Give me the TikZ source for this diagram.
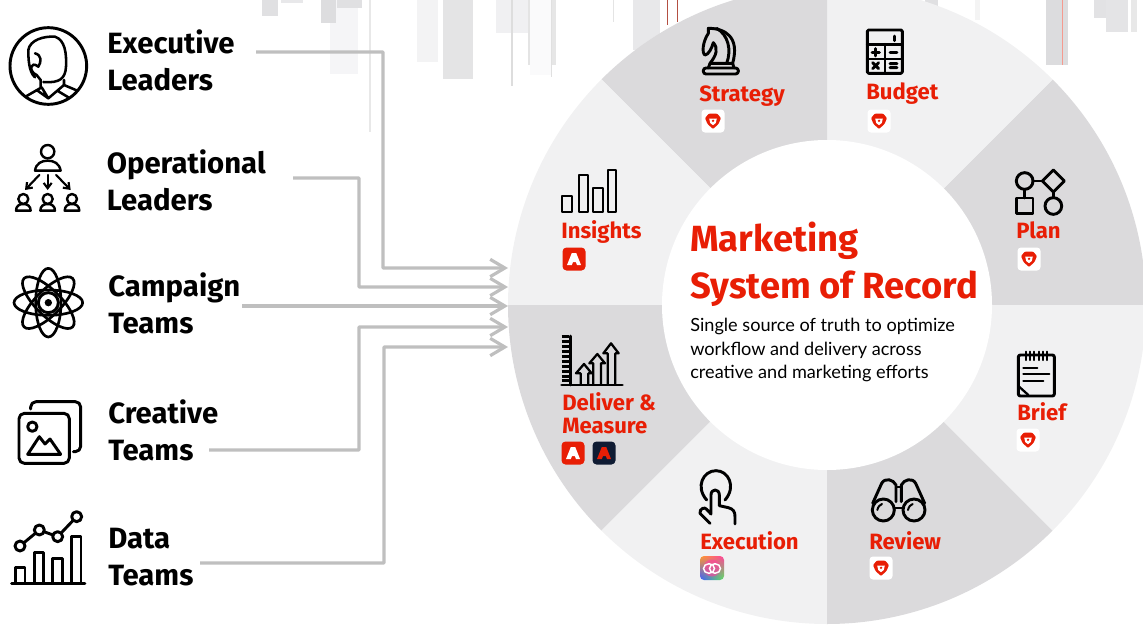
\documentclass[tikz,border=0pt]{standalone}
\usepackage{fontspec}
\setmainfont{Fira Sans}
\newfontfamily\blurbfont{Lato}
\usetikzlibrary{arrows.meta,positioning,shadings}
\definecolor{brandred}{HTML}{E81E05}
\definecolor{wheeldark}{HTML}{DBDADC}
\definecolor{wheellight}{HTML}{F1F1F2}
\definecolor{linkgray}{HTML}{BFBFBF}
\definecolor{badgenavy}{HTML}{0F1B33}
\definecolor{cloudorange}{HTML}{FF9B2E}
\definecolor{cloudpink}{HTML}{FF40A0}
\definecolor{cloudblue}{HTML}{3C5CFF}
\definecolor{cloudgreen}{HTML}{5CE65C}

\tikzset{
    lionbadge/.pic={
        \fill[white, rounded corners=2.6pt] (-11.5,-11.5) rectangle (11.5,11.5);
        \fill[brandred, rounded corners=0.8pt] (-4,-7.5) -- (4,-7.5) -- (8,-3) -- (5.5,3) -- (0,8) -- (-5.5,3) -- (-8,-3) -- cycle;
        \fill[white] (-3.8,-2.5) -- (3.8,-2.5) -- (2.8,2) -- (0,4.2) -- (-2.8,2) -- cycle;
        \fill[brandred] (0,-0.2) circle (1.3);
    },
    adobeglyph/.pic={
        \fill[pic actions] (-2.2,-6) -- (2.2,-6) -- (7,6) -- (3,6) -- (1.8,3) -- (-1,3) -- (0.2,0) -- (-2.2,6) -- (-7,6) -- cycle;
    },
    adobebadge/.pic={
        \fill[brandred, rounded corners=3pt] (-11.5,-11.5) rectangle (11.5,11.5);
        \pic[white] {adobeglyph};
    },
    navybadge/.pic={
        \fill[badgenavy, rounded corners=3pt] (-11.5,-11.5) rectangle (11.5,11.5);
        \pic[brandred] {adobeglyph};
    },
    cloudbadge/.pic={
        \shade[rounded corners=3pt, upper left=cloudorange, upper right=cloudpink, lower left=cloudblue, lower right=cloudgreen] (-12,-12) rectangle (12,12);
        \fill[cloudpink, opacity=0.6] (0,0) circle (8.5);
        \draw[white, line width=1.1pt] (-3,0.5) ellipse[x radius=5.5, y radius=4.8] (3,0.5) ellipse[x radius=5.5, y radius=4.8];
    }
}

\begin{document}
\begin{tikzpicture}[
    x=0.75pt, y=-0.75pt,
    team/.style={font=\fontsize{22}{27.75}\selectfont\bfseries, align=left, anchor=west, inner sep=0pt},
    stage/.style={font=\fontsize{16.6}{17.3}\selectfont\bfseries, text=brandred, align=left, anchor=base west, inner sep=0pt},
    link/.style={draw=linkgray, line width=2.4pt, rounded corners=0.5pt, -{Straight Barb[length=11pt, width=13pt, line width=2.4pt]}},
    icon/.style={draw=black, line width=2.2pt, line join=round, line cap=round},
    traced/.style={x=0.25pt, y=-0.25pt}
]
    \useasboundingbox (0,0) rectangle (1143,639);

    % Faint strips along the top edge
    \foreach \xa/\xb/\yb/\shade in {262/278/16/E0E0E2, 281/303/3/E8E8EA, 330/358/74/F5F5F7, 321/336/23/DDDDDF, 337/362/8/E0E0E2,
        369/371/132/E8E8E8, 417/438/62/F3F3F4, 443/473/79/E4E4E5, 496/528/33/F0F0F2, 511/513/86/DDDDDD, 528/530/65/E4E4E4,
        530/551/75/FAFAFB, 551/552/77/E0E0E0, 552/556/65/E6E6E6, 613/614/22/E4E4E4, 633/660/50/E8E8EA, 925/938/7/E0E0E2,
        975/980/20/F4F4F4, 1046/1068/65/DCDCDE, 1094/1118/18/E2E2E4, 1106/1128/32/E4E4E6, 1131/1137/32/E8E8E8} {
        \definecolor{stripcolor}{HTML}{\shade}
        \fill[stripcolor] (\xa,0) rectangle (\xb,\yb);
    }
    \fill[brandred!45] (1061.5,0) rectangle (1062.5,65);
    \fill[brandred!50!gray] (667,0) rectangle (668,25);
    \fill[brandred!50!gray] (676.5,0) rectangle (677.5,22);

    % Wheel
    \begin{scope}
        \clip (0,0) rectangle (1143,639);
        \begin{scope}[shift={(827,305)}, y=0.75pt]
            \foreach \a/\tone in {0/wheeldark, 45/wheellight, 90/wheeldark, 135/wheellight, 180/wheeldark, 225/wheellight, 270/wheeldark, 315/wheellight} {
                \fill[\tone] (0,0) -- (\a:319) arc[start angle=\a, delta angle=45, radius=319] -- cycle;
            }
        \end{scope}
    \end{scope}
    \node[circle, fill=white, minimum size=247.5pt, inner sep=0pt] (hub) at (827,305) {};

    % Centre text
    \node[font=\fontsize{27.3}{35.25}\selectfont\bfseries, text=brandred, align=left, anchor=north west, inner sep=0pt] (title) at (690,222) {Marketing\\System of Record};
    \node[font=\fontsize{13.6}{17.7}\selectfont\blurbfont, align=left, inner sep=0pt, below=8pt of title.south west, anchor=north west] (blurb) {Single source of truth to optimize\\workflow and delivery across\\creative and marketing efforts};

    % Stage labels
    \node[stage] (strategy) at (699,101) {Strategy};
    \node[stage] (budget) at (866,99.5) {Budget};
    \node[stage] (plan) at (1016,238) {Plan};
    \node[stage] (brief) at (1017,420.5) {Brief};
    \node[stage] (review) at (869,549) {Review};
    \node[stage] (execution) at (700,549) {Execution};
    \node[stage] (insights) at (561,238) {Insights};
    \node[stage, anchor=north west] (deliver) at (562,392) {Deliver \&\\Measure};

    % Badges
    \pic at (713,121) {lionbadge};
    \pic at (879,121) {lionbadge};
    \pic at (1029,259) {lionbadge};
    \pic at (1028,440) {lionbadge};
    \pic at (881,568) {lionbadge};
    \pic at (712,568) {cloudbadge};
    \pic at (574,259) {adobebadge};
    \pic at (573,453) {adobebadge};
    \pic at (604,453) {navybadge};

    % Audience labels
    \node[team] (executive) at (107,60) {Executive\\Leaders};
    \node[team] (operational) at (106.5,180) {Operational\\Leaders};
    \node[team] (campaign) at (108,303) {Campaign\\Teams};
    \node[team] (creative) at (108,430) {Creative\\Teams};
    \node[team] (data) at (108,557) {Data\\Teams};

    % Connectors
    \coordinate (exec start) at (256,52);
    \coordinate (oper start) at (293,178);
    \coordinate (camp start) at (242,306);
    \coordinate (crea start) at (209,450);
    \coordinate (data start) at (200,563);
    \coordinate (exec end) at (508,268);
    \coordinate (oper end) at (508,287);
    \coordinate (camp end) at (508,306);
    \coordinate (crea end) at (508,327);
    \coordinate (data end) at (508,347);
    \draw[link] (exec start) -| (383,160) |- (exec end);
    \draw[link] (oper start) -| (359,230) |- (oper end);
    \draw[link] (camp start) -- (camp end);
    \draw[link] (crea start) -| (359,390) |- (crea end);
    \draw[link] (data start) -| (384,450) |- (data end);

    % Audience icons
    \begin{scope}[traced]
        \draw[icon] (145,198) circle (115);
        % executive
        \draw[icon, line width=1.9pt] (105,232) .. controls (85,215) and (85,170) .. (85,150) .. controls (90,120) and (130,108) .. (165,110) .. controls (195,120) and (200,160) .. (198,200) .. controls (196,235) and (180,250) .. (130,246);
        \draw[icon, line width=1.9pt] (105,160) .. controls (125,165) and (125,185) .. (115,200) .. controls (90,180) and (85,215) .. (110,225) -- (122,240) -- (122,262) (192,240) -- (192,255);
        \draw[icon, line width=1.9pt] (80,288) -- (125,262) -- (145,295) -- (172,272) -- (205,292) (172,272) -- (192,255) -- (232,272) (145,295) -- (110,270);
        % operational
        \draw[icon, line width=1.8pt] (143,455) circle (20);
        \draw[icon, line width=1.8pt] (105,512) .. controls (108,490) and (125,482) .. (143,482) .. controls (162,482) and (178,490) .. (182,512) -- cycle;
        \foreach \tipx in {75,143,212} {
            \draw[icon, -{Straight Barb[length=4pt, width=6pt]}, line width=1.6pt] ({143+(\tipx-143)*0.37},525) -- (\tipx,570);
        }
        \foreach \px in {70,143,216} {
            \draw[icon, line width=1.8pt] (\px,597) circle (15);
            \draw[icon, line width=1.8pt] (\px-22,632) .. controls (\px-22,618) and (\px-12,612) .. (\px,612) .. controls (\px+12,612) and (\px+22,618) .. (\px+22,632) -- cycle;
        }
        % campaign
        \foreach \tilt in {0,45,90,135} {
            \draw[icon, line width=2pt] (145,908) ellipse[x radius=103, y radius=38, rotate=\tilt];
        }
        \draw[icon, fill=white] (145,908) circle (30);
        \fill (145,908) circle (11);
    \end{scope}
    \begin{scope}[shift={(0,340)}, traced]
        % creative
        \draw[icon, rounded corners=4pt] (57,220) rectangle (208,370);
        \draw[icon, rounded corners=4pt] (92,207) -- (92,185) -- (242,185) -- (242,335) -- (220,335);
        \draw[icon] (97,260) circle (14);
        \draw[icon] (83,343) -- (118,290) -- (135,312) -- (150,297) -- (182,343) -- cycle;
        % data
        \draw[icon] (35,730) -- (255,730);
        \draw[icon] (47,730) -- (47,683) -- (75,683) -- (75,730);
        \draw[icon] (103,730) -- (103,637) -- (131,637) -- (131,730);
        \draw[icon] (158,730) -- (158,655) -- (187,655) -- (187,730);
        \draw[icon] (215,730) -- (215,590) -- (243,590) -- (243,730);
        \draw[icon] (60,618) -- (118,570) -- (173,590) -- (230,530);
        \foreach \nx/\ny in {60/618, 118/570, 173/590, 230/530} {
            \draw[icon, fill=white] (\nx,\ny) circle (15);
        }
    \end{scope}

    % Stage icons
    \begin{scope}[shift={(660,0)}, traced]
        % knight
        \draw[icon, rounded corners=2pt] (130,204) rectangle (235,222);
        \draw[icon] (145,204) -- (150,190) -- (218,190) -- (222,204);
        \draw[icon] (150,190) .. controls (170,165) and (175,145) .. (160,128) .. controls (155,145) and (145,165) .. (135,165) .. controls (125,160) and (128,125) .. (145,100) -- (145,85) .. controls (195,85) and (240,110) .. (218,190);
        \draw[icon] (170,85) .. controls (205,105) and (215,150) .. (200,190);
        % calculator
        \draw[icon, rounded corners=1pt] (622,90) rectangle (727,220);
        \draw[icon] (622,133) -- (727,133) (622,177) -- (727,177) (675,133) -- (675,220) (703,108) -- (703,122);
        \draw[icon] (636,157) -- (658,157) (647,146) -- (647,168) (690,157) -- (711,157);
        \draw[icon] (638,188) -- (656,206) (656,188) -- (638,206) (690,191) -- (711,191) (690,203) -- (711,203);
        % plan
        \draw[icon] (1094,543) circle (25) (1180,618) circle (25);
        \draw[icon] (1180,510) -- (1213,543) -- (1180,576) -- (1147,543) -- cycle;
        \draw[icon] (1119,543) -- (1147,543) (1094,568) -- (1094,594) (1180,576) -- (1180,593);
        \draw[icon] (1070,594) rectangle (1119,640);
    \end{scope}
    % insights
    \foreach \xa/\xb/\ya in {562/572/196, 579/588/175, 593/603/188, 608/616/170} {
        \draw[icon, line cap=butt] (\xa,212) rectangle (\xb,\ya);
    }
    \begin{scope}[shift={(340,230)}, traced]
        % deliver
        \draw[icon] (692,318) -- (692,465) (665,465) -- (847,465);
        \foreach \ty in {320,335,350,365,380,395,410,425,440,452} {
            \draw[black, line width=2pt] (665,\ty) -- (688,\ty);
        }
        \draw[icon, line width=1.7pt] (722,462) -- (722,430) -- (708,430) -- (732,402) -- (755,430) -- (745,430) -- (745,462);
        \draw[icon, line width=1.7pt] (760,462) -- (760,400) -- (748,400) -- (772,372) -- (795,400) -- (783,400) -- (783,462);
        \draw[icon, line width=1.7pt] (803,462) -- (803,370) -- (790,370) -- (813,340) -- (836,370) -- (826,370) -- (826,462);
    \end{scope}
    \begin{scope}[shift={(680,340)}, traced]
        % brief
        \draw[icon, rounded corners=1.5pt] (1015,45) rectangle (1123,168);
        \foreach \bx in {1037,1050,1063,1076,1089,1102} {
            \draw[icon, line width=1.6pt] (\bx,35) -- (\bx,60);
        }
        \draw[icon, line width=1.7pt] (1030,85) -- (1072,85) (1030,103) -- (1108,103) (1030,122) -- (1090,122);
        \draw[icon, line width=1.7pt] (1015,138) -- (1045,165);
        % review
        \draw[icon] (610,510) circle (33) (702,510) circle (33);
        \draw[icon] (578,490) -- (605,430) .. controls (615,412) and (640,418) .. (648,435) -- (648,485);
        \draw[icon] (734,490) -- (707,430) .. controls (697,412) and (672,418) .. (664,435) -- (664,485);
        \draw[icon, line width=1.5pt] (648,440) -- (664,440) (643,505) -- (669,505);
        \draw[icon, line width=1.5pt] (592,510) .. controls (594,500) and (600,494) .. (606,492);
        \draw[icon, line width=1.5pt] (684,510) .. controls (686,500) and (692,494) .. (698,492);
        % execution
        \draw[icon] (80,480) .. controls (45,440) and (70,392) .. (108,392) .. controls (145,392) and (170,440) .. (135,480);
        \draw[icon] (90,550) -- (60,520) .. controls (58,505) and (75,500) .. (80,508) -- (93,522) -- (93,465) .. controls (93,445) and (118,445) .. (118,465) -- (118,497) -- (145,503) .. controls (160,507) and (165,515) .. (165,530) -- (165,552);
    \end{scope}
\end{tikzpicture}
\end{document}
